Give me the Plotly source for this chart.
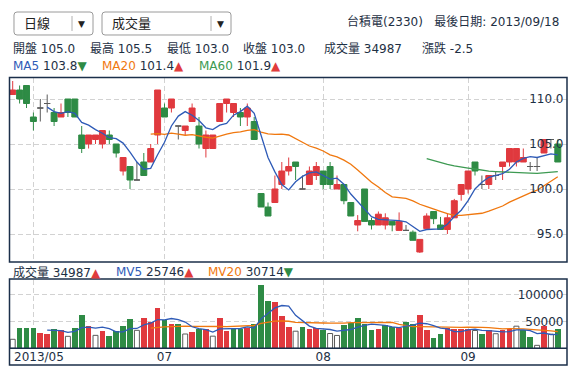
import plotly.graph_objects as go
import pandas as pd
import numpy as np

# ---------------- data ----------------
opens = [110.5, 111.0, 111.5, 108.0, 109.0, 109.5, 108.5, 108.0, 110.0, 110.0,
         106.0, 105.0, 105.5, 105.0, 106.0, 105.0, 102.0, 102.5, 101.0, 103.0,
         103.0, 106.0, 109.0, 109.0, 107.0, 106.5, 107.5, 107.0, 104.5, 104.5,
         107.5, 109.5, 108.5, 108.5, 108.0, 107.5, 99.5, 98.0, 98.5, 100.5,
         102.0, 103.0, 100.0, 100.5, 101.5, 102.0, 102.5, 100.0, 100.5, 98.5,
         96.0, 100.0, 96.5, 96.0, 96.0, 96.4, 95.4, 95.4, 95.2, 93.0,
         95.6, 97.5, 96.0, 95.5, 96.8, 99.4, 100.0, 103.0, 100.5, 100.5,
         101.5, 102.5, 103.0, 103.0, 103.0, 102.5, 102.5, 104.0, 105.5, 105.0]
highs = [112.0, 111.5, 111.5, 108.5, 110.0, 110.5, 109.0, 109.5, 110.0, 110.0,
         107.0, 106.0, 106.0, 106.5, 106.5, 105.0, 103.5, 102.5, 103.0, 104.0,
         105.0, 111.0, 109.5, 110.0, 107.0, 107.0, 109.5, 108.0, 106.5, 106.0,
         109.5, 110.0, 109.5, 109.0, 109.5, 108.0, 99.5, 98.5, 101.5, 103.0,
         103.5, 103.0, 101.5, 102.5, 103.0, 102.0, 103.0, 101.5, 100.5, 98.5,
         97.1, 100.0, 96.8, 97.5, 97.3, 96.4, 97.4, 96.0, 95.4, 94.4,
         97.3, 97.5, 96.9, 97.3, 98.9, 100.5, 102.0, 103.0, 101.5, 101.5,
         102.0, 103.0, 104.5, 104.5, 104.5, 103.0, 103.5, 105.5, 105.5, 105.5]
lows = [110.5, 109.5, 109.0, 106.5, 107.5, 108.5, 107.0, 108.0, 108.0, 108.0,
        104.0, 104.5, 105.0, 104.5, 105.0, 103.5, 101.5, 100.0, 101.0, 101.5,
        103.0, 105.0, 108.0, 108.5, 105.5, 106.0, 107.5, 104.5, 103.5, 104.5,
        107.5, 108.5, 108.0, 107.0, 107.0, 105.5, 98.0, 97.0, 98.5, 100.0,
        101.5, 101.0, 100.0, 100.5, 101.0, 100.0, 100.0, 100.0, 98.3, 97.0,
        95.3, 96.4, 95.5, 96.0, 95.5, 95.3, 95.4, 95.4, 94.3, 92.9,
        95.6, 96.1, 95.5, 95.0, 96.8, 98.7, 99.5, 101.5, 100.0, 100.0,
        101.0, 101.0, 102.5, 102.5, 103.0, 102.0, 102.0, 104.0, 104.5, 103.0]
closes = [111.0, 110.0, 109.5, 107.5, 109.0, 109.5, 107.5, 108.5, 108.5, 108.0,
          104.5, 106.0, 106.0, 106.5, 105.5, 104.0, 103.5, 101.0, 101.0, 101.5,
          104.5, 111.0, 108.0, 110.0, 107.0, 107.0, 109.0, 105.0, 106.0, 106.0,
          109.5, 110.0, 109.5, 108.0, 109.0, 105.5, 98.0, 97.0, 100.0, 102.0,
          102.5, 102.5, 100.0, 102.0, 102.5, 100.5, 100.5, 100.5, 98.7, 97.0,
          96.5, 96.4, 96.0, 97.2, 96.8, 96.0, 96.4, 95.4, 94.3, 94.4,
          97.0, 96.7, 95.5, 96.8, 98.7, 100.5, 102.0, 102.0, 100.5, 101.5,
          101.5, 103.0, 104.5, 104.5, 103.5, 102.5, 102.5, 105.5, 105.5, 103.0]
volumes = [16700, 37700, 37700, 37700, 29000, 26500, 35800, 34000, 22200, 37700,
           61700, 41400, 24000, 32000, 22800, 32000, 41400, 54300, 33300, 56200,
           48000, 74700, 52000, 45000, 45000, 26500, 31000, 35000, 35800, 22500,
           56000, 32600, 36000, 36500, 38000, 45500, 117000, 88300, 85800, 59900,
           39500, 31700, 39600, 35400, 37800, 34000, 27400, 23800, 43000, 46000,
           55500, 45000, 33700, 35600, 43600, 40000, 38000, 49000, 45000, 61000,
           34500, 19500, 26500, 38000, 36000, 35000, 36000, 33000, 26000, 33000,
           27000, 33000, 36000, 41000, 33000, 21100, 5500, 40900, 26200, 34987]
prev_close_before_first = 111.0   # first volume bar shows "unchanged"

month_ticks = [3, 22, 45, 66]
month_labels = ['', '07', '08', '09']
first_label = '2013/05'
price_ticks = [95, 100, 105, 110]
vol_ticks = [50000, 100000]

# ---------------- helpers ----------------
W, H = 577, 378
def px(x): return x / W
def py(y): return 1 - y / H

n = len(closes)
idx = list(range(n))
cl = pd.Series(closes)
vol = pd.Series(volumes)

def ma(s, k):
    m = s.rolling(k).mean()
    m[:k] = np.nan
    return m

ma5, ma20, ma60 = ma(cl, 5), ma(cl, 20), ma(cl, 60)
mv5, mv20 = ma(vol, 5), ma(vol, 20)

RED = '#e0393e'
GREEN = '#2e8b45'
GRAY = '#5a5a5a'
BLUE = '#2f5bb7'
ORANGE = '#f0780f'
MA60C = '#3d9a52'
TXT = '#1e3044'
BORDER = '#1b2f4a'
GRID = '#d2d2d2'
FONT = 'DejaVu Sans, Noto Sans CJK TC, sans-serif'

fig = go.Figure()

nd = [i for i in idx if opens[i] != closes[i]]
dj = [i for i in idx if opens[i] == closes[i]]
fig.add_trace(go.Candlestick(
    x=nd, open=[opens[i] for i in nd], high=[highs[i] for i in nd],
    low=[lows[i] for i in nd], close=[closes[i] for i in nd],
    increasing=dict(line=dict(color=RED, width=1), fillcolor=RED),
    decreasing=dict(line=dict(color=GREEN, width=1), fillcolor=GREEN),
    xaxis='x', yaxis='y', hoverinfo='skip'))
fig.add_trace(go.Candlestick(
    x=dj, open=[opens[i] for i in dj], high=[highs[i] for i in dj],
    low=[lows[i] for i in dj], close=[closes[i] for i in dj],
    increasing=dict(line=dict(color=GRAY, width=1), fillcolor=GRAY),
    decreasing=dict(line=dict(color=GRAY, width=1), fillcolor=GRAY),
    xaxis='x', yaxis='y', hoverinfo='skip'))

for s, c in [(ma60, MA60C), (ma20, ORANGE), (ma5, BLUE)]:
    fig.add_trace(go.Scatter(x=idx, y=s, mode='lines', line=dict(color=c, width=1.3),
                             xaxis='x', yaxis='y', hoverinfo='skip'))

prev = [prev_close_before_first] + closes[:-1]
up = [i for i in idx if closes[i] > prev[i]]
dn = [i for i in idx if closes[i] < prev[i]]
eq = [i for i in idx if closes[i] == prev[i]]
fig.add_trace(go.Bar(x=up, y=[volumes[i] for i in up], width=0.82,
                     marker=dict(color=RED, line=dict(width=0)), xaxis='x2', yaxis='y2', hoverinfo='skip'))
fig.add_trace(go.Bar(x=dn, y=[volumes[i] for i in dn], width=0.82,
                     marker=dict(color=GREEN, line=dict(width=0)), xaxis='x2', yaxis='y2', hoverinfo='skip'))
fig.add_trace(go.Bar(x=eq, y=[volumes[i] for i in eq], width=0.72,
                     marker=dict(color='white', line=dict(width=1, color=GRAY)), xaxis='x2', yaxis='y2', hoverinfo='skip'))
for s, c in [(mv20, ORANGE), (mv5, BLUE)]:
    fig.add_trace(go.Scatter(x=idx, y=s, mode='lines', line=dict(color=c, width=1.3),
                             xaxis='x2', yaxis='y2', hoverinfo='skip'))

x0p, x1p = 10.0, 566.5
c0, pitch = 12.7, 6.9
xr = [(x0p - c0) / pitch, (x1p - c0) / pitch]
xcommon = dict(domain=[px(x0p), px(x1p)], range=xr, tickvals=month_ticks,
               showgrid=True, gridcolor=GRID, griddash='5px,3px', gridwidth=1,
               zeroline=False, showline=False, ticks='', fixedrange=True)

fig.update_layout(
    width=W, height=H, autosize=False,
    margin=dict(l=0, r=0, t=0, b=0),
    paper_bgcolor='white', plot_bgcolor='white',
    showlegend=False, boxgap=0.14, boxgroupgap=0, bargap=0,
    font=dict(family=FONT, size=12, color=TXT),
    xaxis=dict(**xcommon, anchor='y', showticklabels=False, rangeslider=dict(visible=False)),
    yaxis=dict(domain=[py(261.5), py(78)], range=[91.944, 112.333], side='right',
               tickvals=price_ticks, ticktext=[f'{v:.1f}' for v in price_ticks],
               ticklabelposition='inside', ticks='', showgrid=True, gridcolor=GRID,
               griddash='5px,3px', zeroline=False, showline=False, anchor='x',
               tickfont=dict(size=12, color=TXT)),
    xaxis2=dict(**xcommon, anchor='y2', ticktext=month_labels, showticklabels=True,
                tickfont=dict(size=12, color=TXT)),
    yaxis2=dict(domain=[py(348.3), py(279.5)], range=[0, 127500], side='right',
                tickvals=vol_ticks, ticktext=[str(v) for v in vol_ticks],
                ticklabelposition='inside', ticks='', showgrid=True, gridcolor=GRID,
                griddash='5px,3px', zeroline=False, showline=False, anchor='x2',
                tickfont=dict(size=12, color=TXT)),
)

shapes = []
def rect(x0, y0, x1, y1, color, w):
    shapes.append(dict(type='rect', xref='paper', yref='paper', x0=px(x0), x1=px(x1),
                       y0=py(y1), y1=py(y0), line=dict(color=color, width=w), layer='above'))
def line(x0, y0, x1, y1, color, w):
    shapes.append(dict(type='line', xref='paper', yref='paper', x0=px(x0), x1=px(x1),
                       y0=py(y0), y1=py(y1), line=dict(color=color, width=w), layer='above'))
def rrect(x0, y0, x1, y1, r, color):
    P = lambda x, y: f'{px(x):.5f},{py(y):.5f}'
    path = (f'M {P(x0+r,y0)} L {P(x1-r,y0)} Q {P(x1,y0)} {P(x1,y0+r)} '
            f'L {P(x1,y1-r)} Q {P(x1,y1)} {P(x1-r,y1)} L {P(x0+r,y1)} '
            f'Q {P(x0,y1)} {P(x0,y1-r)} L {P(x0,y0+r)} Q {P(x0,y0)} {P(x0+r,y0)} Z')
    shapes.append(dict(type='path', xref='paper', yref='paper', path=path,
                       line=dict(color=color, width=1), fillcolor='white', layer='above'))

rect(9.5, 77.5, 567, 262, BORDER, 1.5)
rect(9.5, 279, 567, 365, BORDER, 1.5)
line(9.5, 348.3, 567, 348.3, BORDER, 1.5)
rrect(14, 12, 93, 35, 3, '#9a9a9a')
rrect(102, 12, 231, 35, 3, '#9a9a9a')
line(72, 16, 72, 31, '#b0b0b0', 1)
line(211, 16, 211, 31, '#b0b0b0', 1)
fig.update_layout(shapes=shapes)

ann = []
def text(x, y, s, size=12, color=TXT, anchor='left'):
    ann.append(dict(xref='paper', yref='paper', x=px(x), y=py(y), text=s, showarrow=False,
                    xanchor=anchor, yanchor='middle', font=dict(size=size, color=color, family=FONT)))

def sp(s, c): return f'<span style="color:{c}">{s}</span>'
UPA = sp('▲', '#e03c3c')
DNA = sp('▼', GREEN)

text(22, 23.5, '日線', 13, '#222')
text(110, 23.5, '成交量', 13, '#222')
text(81.5, 24, '▼', 9, '#222', 'center')
text(220.5, 24, '▼', 9, '#222', 'center')
text(561, 21, '台積電(2330)&nbsp;&nbsp;&nbsp;最後日期: 2013/09/18', 12, TXT, 'right')

info = [(11, '開盤 105.0'), (87.5, '最高 105.5'), (164.5, '最低 103.0'),
        (241, '收盤 103.0'), (322.5, '成交量 34987'), (419.5, '漲跌 -2.5')]
for x, s in info:
    text(x, 48.5, s)

text(11, 66, sp('MA5', BLUE) + ' 103.8' + DNA)
text(100, 66, sp('MA20', ORANGE) + ' 101.4' + UPA)
text(196.5, 66, sp('MA60', MA60C) + ' 101.9' + UPA)

text(10.5, 272, '成交量 34987' + UPA)
text(113.5, 272, sp('MV5', BLUE) + ' 25746' + UPA)
text(206, 272, sp('MV20', ORANGE) + ' 30714' + DNA)

text(12, 357, first_label)
fig.update_layout(annotations=ann)

fig.write_html('out.html', config={'displayModeBar': False, 'staticPlot': True},
               post_script="document.body.style.margin='0';document.body.style.padding='0';")
